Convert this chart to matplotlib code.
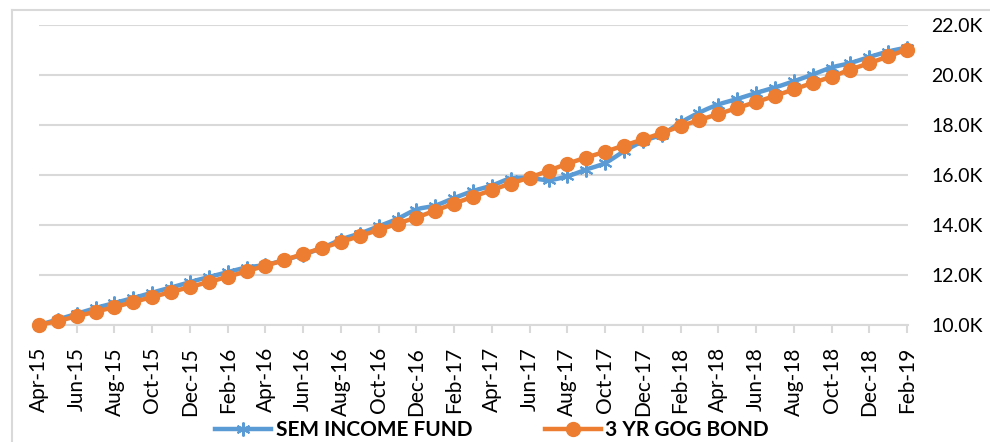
import numpy as np
import matplotlib
matplotlib.use('Agg')
import matplotlib.pyplot as plt
from matplotlib.lines import Line2D
from matplotlib.ticker import FuncFormatter

months = ['Apr-15', 'May-15', 'Jun-15', 'Jul-15', 'Aug-15', 'Sep-15', 'Oct-15', 'Nov-15', 'Dec-15',
          'Jan-16', 'Feb-16', 'Mar-16', 'Apr-16', 'May-16', 'Jun-16', 'Jul-16', 'Aug-16', 'Sep-16',
          'Oct-16', 'Nov-16', 'Dec-16', 'Jan-17', 'Feb-17', 'Mar-17', 'Apr-17', 'May-17', 'Jun-17',
          'Jul-17', 'Aug-17', 'Sep-17', 'Oct-17', 'Nov-17', 'Dec-17', 'Jan-18', 'Feb-18', 'Mar-18',
          'Apr-18', 'May-18', 'Jun-18', 'Jul-18', 'Aug-18', 'Sep-18', 'Oct-18', 'Nov-18', 'Dec-18',
          'Jan-19', 'Feb-19']

sem_income_fund = [10.00, 10.22, 10.45, 10.68, 10.88, 11.08, 11.30, 11.50, 11.72,
                   11.92, 12.12, 12.30, 12.40, 12.60, 12.82, 13.08, 13.42, 13.66,
                   13.95, 14.25, 14.62, 14.78, 15.08, 15.36, 15.58, 15.86, 15.88,
                   15.80, 15.95, 16.22, 16.48, 16.95, 17.35, 17.62, 18.10, 18.50,
                   18.82, 19.04, 19.28, 19.50, 19.75, 20.02, 20.30, 20.48, 20.72,
                   20.94, 21.10]

gog_bond_3yr = [10.00, 10.16, 10.35, 10.53, 10.72, 10.92, 11.12, 11.32, 11.52,
                11.72, 11.93, 12.15, 12.37, 12.60, 12.84, 13.08, 13.32, 13.56,
                13.80, 14.06, 14.30, 14.58, 14.86, 15.13, 15.40, 15.66, 15.90,
                16.17, 16.45, 16.70, 16.93, 17.18, 17.42, 17.68, 17.95, 18.20,
                18.44, 18.68, 18.92, 19.16, 19.43, 19.68, 19.93, 20.22, 20.47,
                20.75, 21.02]

BLUE = '#5B9BD5'
ORANGE = '#ED7D31'
GRID = '#d9d9d9'
FONT = 'Lato'


def smooth(x, y, steps=12):
    # catmull-rom style smoothing, like excel "smoothed line"
    x = np.asarray(x, float)
    y = np.asarray(y, float)
    xs, ys = [], []
    n = len(x)
    for i in range(n - 1):
        i0 = max(i - 1, 0)
        i3 = min(i + 2, n - 1)
        t = np.linspace(0, 1, steps, endpoint=False)
        for arr, out in ((x, xs), (y, ys)):
            p0, p1, p2, p3 = arr[i0], arr[i], arr[i + 1], arr[i3]
            c1 = p1 + (p2 - p0) / 6
            c2 = p2 - (p3 - p1) / 6
            out.extend((1 - t) ** 3 * p1 + 3 * (1 - t) ** 2 * t * c1 + 3 * (1 - t) * t ** 2 * c2 + t ** 3 * p2)
    xs.append(x[-1])
    ys.append(y[-1])
    return np.array(xs), np.array(ys)


x = np.arange(len(months))

fig = plt.figure(figsize=(9.9, 4.42), dpi=100)
ax = fig.add_axes([39 / 990, 1 - 325 / 442, (908 - 39) / 990, 300 / 442])

# outer chart border (left and top visible)
fig.add_artist(Line2D([12 / 990, 12 / 990], [0, 1 - 10 / 442], color=GRID, lw=1.5, transform=fig.transFigure))
fig.add_artist(Line2D([12 / 990, 1], [1 - 10 / 442, 1 - 10 / 442], color=GRID, lw=1.5, transform=fig.transFigure))

sx, sy = smooth(x, sem_income_fund)
ax.plot(sx, sy, color=BLUE, lw=3.2, solid_capstyle='round', zorder=3, clip_on=False)
ax.plot(x, sem_income_fund, ls='none', marker=(6, 2, 0), ms=10, mec=BLUE, mew=1.5, zorder=3, clip_on=False)

ox, oy = smooth(x, gog_bond_3yr)
ax.plot(ox, oy, color=ORANGE, lw=3.2, solid_capstyle='round', zorder=4, clip_on=False)
ax.plot(x, gog_bond_3yr, ls='none', marker='o', ms=10, mfc=ORANGE, mec=ORANGE, zorder=4, clip_on=False)

ax.set_xlim(0, 46.05)
ax.set_ylim(10, 22)
ax.set_yticks(np.arange(10, 22.1, 2))
ax.yaxis.set_major_formatter(FuncFormatter(lambda v, p: '%.1fK' % v))
ax.yaxis.tick_right()
ax.grid(axis='y', color=GRID, lw=1.5)
ax.set_axisbelow(True)

ax.set_xticks(x[::2])
ax.set_xticklabels(months[::2], rotation=90)

for s in ['top', 'left', 'right']:
    ax.spines[s].set_visible(False)
ax.spines['bottom'].set_color(GRID)
ax.spines['bottom'].set_linewidth(1.5)

ax.tick_params(axis='x', colors=GRID, length=6, width=1.5, labelcolor='black', labelsize=15, pad=10)
ax.tick_params(axis='y', length=0, labelcolor='black', labelsize=14, pad=17)
for lab in ax.get_xticklabels() + ax.get_yticklabels():
    lab.set_fontfamily(FONT)

handles = [
    Line2D([], [], color=BLUE, lw=3.2, marker=(6, 2, 0), ms=10, mec=BLUE, mew=1.5),
    Line2D([], [], color=ORANGE, lw=3.2, marker='o', ms=10, mfc=ORANGE, mec=ORANGE),
]
fig.legend(handles, ['SEM INCOME FUND', '3 YR GOG BOND'], loc='center',
           bbox_to_anchor=(0.497, 1 - 430 / 442), ncol=2, frameon=False,
           handlelength=2.7, handletextpad=0.2, columnspacing=3.5,
           prop={'family': FONT, 'weight': 'bold', 'size': 15})

fig.savefig('out.png', dpi=100)
